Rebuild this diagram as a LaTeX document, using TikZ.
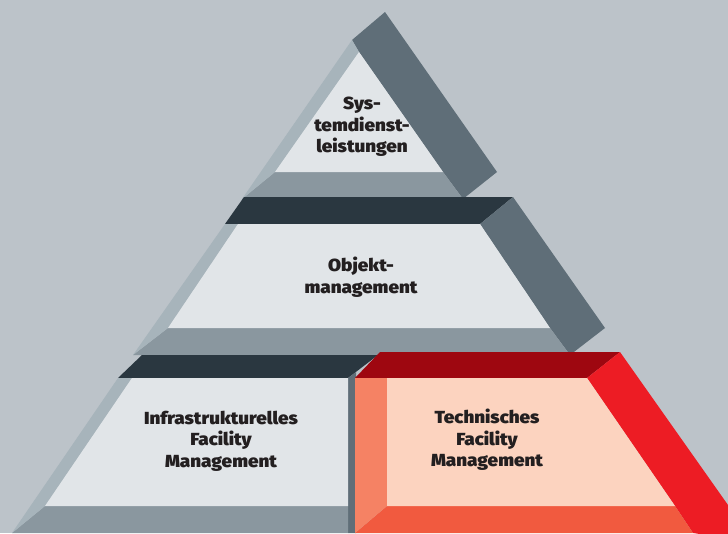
\documentclass[tikz,border=0pt]{standalone}
\usepackage{fontspec}
\setmainfont{Fira Sans}
\newfontfamily\heavyfont{Fira Sans Black}[FakeStretch=1.08]
\definecolor{bg}{HTML}{BCC3C9}
\definecolor{lite}{HTML}{A7B4BB}
\definecolor{side}{HTML}{5F6E78}
\definecolor{base}{HTML}{8A979F}
\definecolor{navy}{HTML}{2A3740}
\definecolor{face}{HTML}{E1E5E8}
\definecolor{txt}{HTML}{231F20}
\definecolor{rtop}{HTML}{9E0710}
\definecolor{rside}{HTML}{ED1C24}
\definecolor{rleft}{HTML}{F58264}
\definecolor{rbase}{HTML}{F15A3F}
\definecolor{rface}{HTML}{FCD3BF}
\begin{document}
\begin{tikzpicture}[x=1pt,y=-1pt,
  lbl/.style={font=\heavyfont\fontsize{17.5}{21.5}\selectfont, text=txt, align=center, inner sep=0pt}]
\useasboundingbox (0,0) rectangle (728,533);
\fill[bg] (0,0) rectangle (728,533);
% top triangle
\fill[side] (385,12) -- (497,172) -- (463,199) -- (443,172) -- (359,52) -- (352,40) -- cycle;
\fill[base] (242,199) -- (463,199) -- (443,172) -- (275,172) -- cycle;
\fill[lite] (352,40) -- (359,52) -- (275,172) -- (242,199) -- cycle;
\fill[face] (359,52) -- (443,172) -- (275,172) -- cycle;
% middle tier
\fill[navy] (244,197) -- (513,197) -- (480,224) -- (225,224) -- cycle;
\fill[side] (513,197) -- (605,328) -- (570,355) -- (550,328) -- (480,224) -- cycle;
\fill[base] (168,328) -- (550,328) -- (570,355) -- (133,355) -- cycle;
\fill[lite] (225,224) -- (238,224) -- (168,328) -- (133,355) -- cycle;
\fill[face] (238,224) -- (480,224) -- (550,328) -- (168,328) -- cycle;
% bottom left tier
\fill[navy] (142,355) -- (378,355) -- (348,378) -- (118,378) -- cycle;
\fill[side] (348,378) -- (356,372) -- (356,533) -- (348,533) -- cycle;
\fill[base] (45,506) -- (348,506) -- (348,533) -- (12,533) -- cycle;
\fill[lite] (118,378) -- (132,378) -- (45,506) -- (12,533) -- cycle;
\fill[face] (132,378) -- (348,378) -- (348,506) -- (45,506) -- cycle;
% bottom right tier (red)
\fill[rtop] (380,352) -- (620,352) -- (587,378) -- (355,378) -- cycle;
\fill[rside] (620,352) -- (740,522) -- (740,540) -- (693,533) -- (675,506) -- (587,378) -- cycle;
\fill[rbase] (387,506) -- (675,506) -- (693,533) -- (355,533) -- cycle;
\fill[rleft] (355,378) -- (387,378) -- (387,506) -- (355,533) -- cycle;
\fill[rface] (387,378) -- (587,378) -- (675,506) -- (387,506) -- cycle;
% labels
\node[lbl] (sys) at (362,127) {Sys-\\temdienst-\\leistungen};
\node[lbl] (obj) at (361,277) {Objekt-\\management};
\node[lbl] (ifm) at (221,441) {Infrastrukturelles\\Facility\\Management};
\node[lbl] (tfm) at (487,440) {Technisches\\Facility\\Management};
\end{tikzpicture}
\end{document}
